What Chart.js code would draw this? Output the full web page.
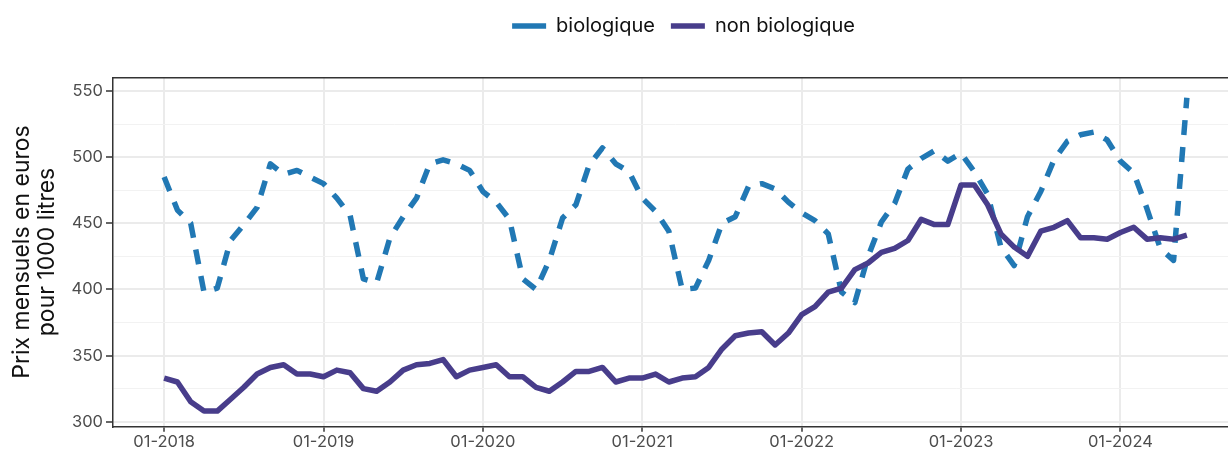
<!DOCTYPE html>
<html><head><meta charset="utf-8">
<script src="https://cdn.jsdelivr.net/npm/chart.js@4/dist/chart.umd.min.js"></script>
<style>html,body{margin:0;padding:0;background:#fff;overflow:hidden;}
#wrap{position:relative;width:1240px;height:453px;}</style></head>
<body><div id="wrap"><canvas id="c"></canvas></div>
<script>
// Monthly series, 01-2018 .. 06-2024
const bio = [485,460,450,398,401,437,449,462,495,487,490,485,
             480,469,456,408,405,439,455,469,495,498,495,490,
             474,466,453,408,400,422,454,464,494,507,495,489,
             469,459,444,400,401,422,450,455,478,480,476,466,
             458,452,442,398,390,425,451,465,491,499,505,497,
             503,489,472,432,418,455,474,498,512,517,519,513,
             497,488,461,431,422,545];
const nonBio = [333,330,315,308,308,317,326,336,341,343,336,336,
                334,339,337,325,323,330,339,343,344,347,334,339,
                341,343,334,334,326,323,330,338,338,341,330,333,
                333,336,330,333,334,341,355,365,367,368,358,367,
                381,387,398,401,415,420,428,431,437,453,449,449,
                479,479,464,442,432,425,444,447,452,439,439,438,
                443,447,438,439,438,441];
const seriesNames = ['biologique', 'non biologique'];
const xTickPos = [0, 12, 24, 36, 48, 60, 72];
const xTickLabels = ['01-2018','01-2019','01-2020','01-2021','01-2022','01-2023','01-2024'];
const yTicks = [300, 325, 350, 375, 400, 425, 450, 475, 500, 525, 550];
const yTitle = ['Prix mensuels en euros', 'pour 1000 litres'];

const FONT = 'Inter';
const toPts = arr => arr.map((v, i) => ({x: i, y: v}));
const isMajor = v => v % 50 === 0;

const legendLayout = {
  id: 'legendLayout',
  beforeLayout(chart) {
    const L = chart.legend;
    if (L && !L._fixedFit) {
      const f = L.fit;
      L.fit = function () { f.call(this); this.height = 77.3; };
      L._fixedFit = true;
    }
  },
  afterLayout(chart) {
    const L = chart.legend;
    if (L) { L.left += 8; L.right += 8; }
  }
};

new Chart(document.getElementById('c'), {
  type: 'line',
  data: {
    datasets: [
      {label: seriesNames[0], data: toPts(bio), borderColor: '#2178b4', backgroundColor: '#2178b4',
       borderWidth: 5.5, borderDash: [15, 12], borderJoinStyle: 'round', pointRadius: 0, tension: 0, order: 2},
      {label: seriesNames[1], data: toPts(nonBio), borderColor: '#483d8b', backgroundColor: '#483d8b',
       borderWidth: 5.5, borderJoinStyle: 'round', pointRadius: 0, tension: 0, order: 1}
    ]
  },
  options: {
    responsive: true, maintainAspectRatio: false, animation: false,
    layout: {padding: {left: 0, right: 2, top: 0, bottom: 0}},
    plugins: {
      legend: {
        position: 'top', fullSize: false,
        labels: {font: {family: FONT, size: 20}, color: '#111', usePointStyle: true, pointStyle: 'line',
                 pointStyleWidth: 34, padding: 16, sort: (a, b) => a.datasetIndex - b.datasetIndex}
      },
      tooltip: {enabled: false}
    },
    scales: {
      x: {
        type: 'linear', min: -3.85, max: 80.85,
        afterBuildTicks: s => { s.ticks = xTickPos.map(v => ({value: v})); },
        afterFit: s => { s.height = 26.3; },
        ticks: {font: {family: FONT, size: 16.5}, color: '#4d4d4d', padding: 0, maxRotation: 0,
                callback: v => xTickLabels[xTickPos.indexOf(v)] || ''},
        grid: {color: '#ebebeb', lineWidth: 2, tickLength: 5, tickColor: '#333', tickWidth: 1.5},
        border: {color: '#333', width: 1.5}
      },
      x2: {
        type: 'linear', position: 'top', min: -3.85, max: 80.85,
        afterFit: s => { s.height = 0; },
        ticks: {display: false}, grid: {display: false, drawTicks: false},
        border: {color: '#333', width: 1.5}
      },
      y: {
        type: 'linear', min: 296.2, max: 560.4,
        afterBuildTicks: s => { s.ticks = yTicks.map(v => ({value: v})); },
        afterFit: s => { s.width = 113; },
        ticks: {font: {family: FONT, size: 16.5}, color: '#4d4d4d', padding: 3,
                callback: v => isMajor(v) ? String(v) : ''},
        grid: {color: c => isMajor(c.tick.value) ? '#ebebeb' : '#f2f2f2',
               lineWidth: c => isMajor(c.tick.value) ? 2 : 1,
               tickLength: 7, tickWidth: 1.5,
               tickColor: c => isMajor(c.tick.value) ? '#333' : 'rgba(0,0,0,0)'},
        border: {color: '#333', width: 1.5},
        title: {display: true, text: yTitle, font: {family: FONT, size: 23, lineHeight: 1.1}, color: '#111',
                padding: {top: 9, bottom: 0}}
      }
    }
  },
  plugins: [legendLayout]
});
</script></body></html>
